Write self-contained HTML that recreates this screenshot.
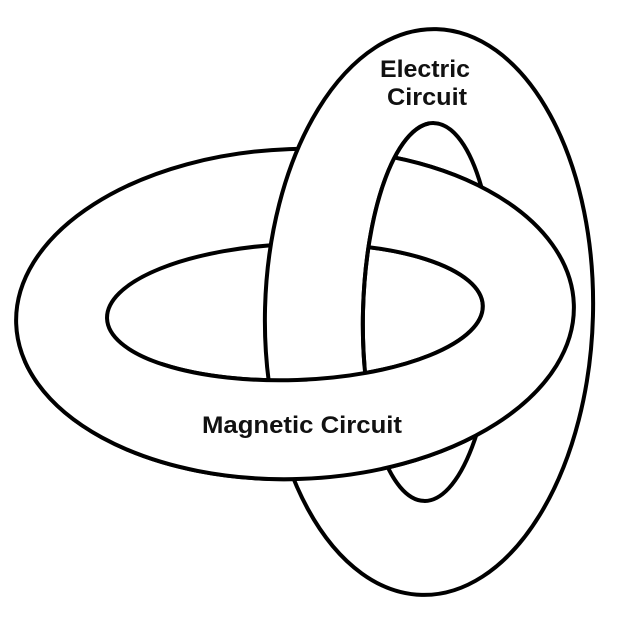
<!DOCTYPE html>
<html><head><meta charset="utf-8"><style>html,body{margin:0;padding:0;background:#fff}svg{display:block}</style></head>
<body>
<svg width="620" height="626" viewBox="0 0 620 626" xmlns="http://www.w3.org/2000/svg">
<defs>
<g id="mag">
<path fill-rule="evenodd" fill="#fff" stroke="#000" stroke-width="4" transform="rotate(-2 295 314)"
 d="M16,314 a279,165 0 1,0 558,0 a279,165 0 1,0 -558,0 Z M107,312 a188,68 0 1,0 376,0 a188,68 0 1,0 -376,0 Z"/>
</g>
<clipPath id="front">
<rect x="429" y="0" width="200" height="626"/>
<rect x="0" y="362" width="620" height="270"/>
<ellipse cx="429" cy="312" rx="66" ry="189" transform="rotate(1.5 429 312)"/>
</clipPath>
<clipPath id="innerleft">
<rect x="0" y="0" width="429" height="366"/>
</clipPath>
</defs>
<rect width="620" height="626" fill="#fff"/>
<use href="#mag"/>
<path fill-rule="evenodd" fill="#fff" stroke="#000" stroke-width="4" transform="rotate(1.5 429 312)"
 d="M265,312 a164,283 0 1,0 328,0 a164,283 0 1,0 -328,0 Z M363,312 a66,189 0 1,0 132,0 a66,189 0 1,0 -132,0 Z"/>
<g clip-path="url(#front)"><use href="#mag"/></g>
<g clip-path="url(#innerleft)">
<ellipse cx="429" cy="312" rx="66" ry="189" transform="rotate(1.5 429 312)" fill="none" stroke="#000" stroke-width="4"/>
</g>
<g font-family="Liberation Sans, Arial, sans-serif" font-weight="bold" font-size="24" fill="#111">
<text x="380" y="77" textLength="90" lengthAdjust="spacingAndGlyphs">Electric</text>
<text x="387" y="105" textLength="80" lengthAdjust="spacingAndGlyphs">Circuit</text>
<text x="202" y="433" textLength="200" lengthAdjust="spacingAndGlyphs">Magnetic Circuit</text>
</g>
</svg>
</body></html>
